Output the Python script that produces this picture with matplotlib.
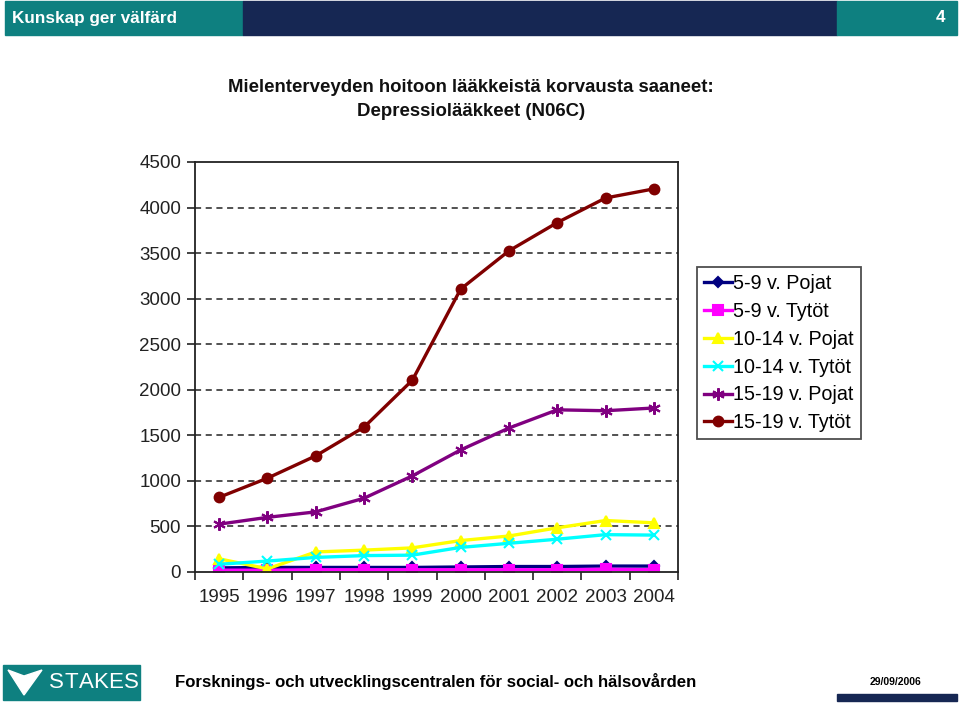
import matplotlib.pyplot as plt
from matplotlib.patches import Rectangle, Polygon

plt.rcParams['font.family'] = ['Liberation Sans', 'DejaVu Sans']

# data
years = ['1995', '1996', '1997', '1998', '1999', '2000', '2001', '2002', '2003', '2004']
pojat_5_9 = [45, 50, 50, 50, 50, 55, 60, 60, 65, 65]
tytot_5_9 = [20, 20, 25, 25, 25, 25, 25, 25, 30, 25]
pojat_10_14 = [145, 35, 220, 240, 265, 345, 395, 485, 565, 540]
tytot_10_14 = [85, 120, 160, 180, 185, 270, 315, 360, 410, 405]
pojat_15_19 = [525, 600, 660, 810, 1055, 1340, 1580, 1780, 1770, 1800]
tytot_15_19 = [820, 1030, 1275, 1590, 2105, 3105, 3525, 3835, 4105, 4205]

series = [
    ('5-9 v. Pojat', pojat_5_9, '#000080', 'D', 5),
    ('5-9 v. Tytöt', tytot_5_9, '#FF00FF', 's', 7),
    ('10-14 v. Pojat', pojat_10_14, '#FFFF00', '^', 7),
    ('10-14 v. Tytöt', tytot_10_14, '#00FFFF', 'x', 7),
    ('15-19 v. Pojat', pojat_15_19, '#800080', (6, 2, 0), 9),
    ('15-19 v. Tytöt', tytot_15_19, '#800000', 'o', 7),
]

W, H = 960, 703
teal = '#0E8080'
navy = '#162753'
fig = plt.figure(figsize=(9.6, 7.03), dpi=100)


def box(x0, y0, w, h, color):
    # rectangle in pixel coords, y from top
    fig.patches.append(Rectangle((x0 / W, 1 - (y0 + h) / H), w / W, h / H,
                                 transform=fig.transFigure, color=color))


# header bars
box(5, 1, 238, 34, teal)
box(243, 1, 594, 34, navy)
box(837, 1, 120, 34, teal)
fig.text(12 / W, 1 - 18 / H, 'Kunskap ger välfärd', color='white', fontsize=12.3, fontweight='bold', va='center')
fig.text(945 / W, 1 - 18 / H, '4', color='white', fontsize=12.3, fontweight='bold', va='center', ha='right')

# footer with logo
box(3, 665, 137, 35, teal)
fig.patches.append(Polygon([(8 / W, 1 - 670 / H), (24 / W, 1 - 676 / H), (42 / W, 1 - 670 / H), (24 / W, 1 - 695 / H)],
                           closed=True, transform=fig.transFigure, color='white'))
for i, ch in enumerate('STAKES'):
    fig.text((56 + i * 15) / W, 1 - 683 / H, ch, color='white', fontsize=16, ha='center', va='center')
fig.text(175 / W, 1 - 682 / H, 'Forsknings- och utvecklingscentralen för social- och hälsovården',
         fontsize=12.1, fontweight='bold', va='center')
fig.text(896 / W, 1 - 682 / H, '29/09/2006', fontsize=7.5, fontweight='bold', va='center', ha='center')
box(837, 694, 120, 7, navy)

# chart title
fig.text(471 / W, 1 - 87 / H, 'Mielenterveyden hoitoon lääkkeistä korvausta saaneet:',
         fontsize=13.4, fontweight='bold', ha='center', va='center', color='#111111')
fig.text(471 / W, 1 - 112 / H, 'Depressiolääkkeet (N06C)',
         fontsize=13.4, fontweight='bold', ha='center', va='center', color='#111111')

ax = fig.add_axes([195 / W, 1 - 572 / H, 483 / W, 410 / H])
x = range(len(years))
for label, vals, color, marker, ms in series:
    ax.plot(x, vals, color=color, marker=marker, markersize=ms, linewidth=2.4,
            markeredgewidth=1.5, label=label)

ax.set_xlim(-0.5, len(years) - 0.5)
ax.set_ylim(0, 4500)
ax.set_yticks(range(0, 4501, 500))
ax.set_xticks(list(x))
ax.set_xticklabels(years)
ax.set_xticks([i - 0.5 for i in range(len(years) + 1)], minor=True)
ax.tick_params(axis='x', which='major', length=0, pad=12, labelsize=13.5, labelcolor='#222222')
ax.tick_params(axis='x', which='minor', length=6, direction='out', width=1.2, color='#222222')
ax.tick_params(axis='y', length=6, direction='out', width=1.2, labelsize=13.5,
               color='#222222', labelcolor='#222222', pad=4)
for v in range(500, 4001, 500):
    ax.axhline(v, color='#222222', linestyle=(0, (4, 3)), linewidth=1.1, zorder=0)
for s in ax.spines.values():
    s.set_linewidth(1.3)
    s.set_color('#222222')

leg = ax.legend(loc='upper left', bbox_to_anchor=(697 / W, 1 - 267 / H), bbox_transform=fig.transFigure,
                frameon=True, fancybox=False, fontsize=14.2, handlelength=1.4, handletextpad=0.1,
                borderpad=0.35, labelspacing=0.45, borderaxespad=0)
leg.get_frame().set_edgecolor('#222222')
leg.get_frame().set_linewidth(1.3)

fig.savefig('out.png', dpi=100)
